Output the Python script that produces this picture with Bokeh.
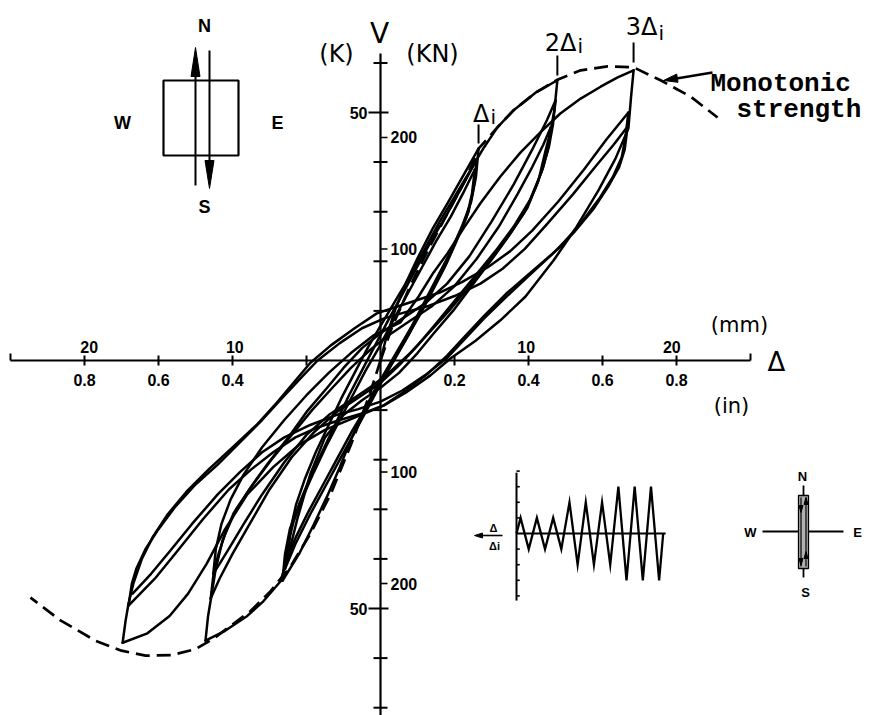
from bokeh.plotting import figure
from bokeh.models import Range1d
from bokeh.embed import file_html
from bokeh.resources import INLINE
from bokeh.core.properties import value

# ------------------------------------------------------------------
# Measured response: lateral displacement (in) vs. shear V (kips)
# Each list is one half-cycle of the test, in loading order.
# ------------------------------------------------------------------
virgin_load = [(0.000, 0.0), (0.016, 4.8), (0.041, 10.5), (0.068, 15.5), (0.100, 20.6),
               (0.141, 26.6), (0.181, 31.7), (0.224, 37.3), (0.265, 42.7)]

# first displacement level (1 x delta_i)
rev_1a = [(0.265, 42.7), (0.258, 37.0), (0.245, 32.0), (0.220, 27.0), (0.190, 22.0), (0.155, 17.0),
          (0.120, 12.0), (0.085, 7.0), (0.050, 2.5), (0.015, -2.0), (-0.020, -6.5), (-0.050, -11.0),
          (-0.080, -16.0), (-0.110, -21.5), (-0.145, -27.5), (-0.180, -33.0), (-0.220, -39.0),
          (-0.265, -44.4)]
fwd_1b = [(-0.265, -44.4), (-0.258, -39.0), (-0.245, -34.0), (-0.220, -29.0), (-0.190, -23.5),
          (-0.155, -18.0), (-0.120, -12.5), (-0.085, -7.0), (-0.050, -2.0), (-0.015, 3.0), (0.020, 8.0),
          (0.060, 13.5), (0.100, 19.0), (0.140, 24.5), (0.180, 29.5), (0.220, 35.0), (0.260, 40.5)]
rev_1b = [(0.260, 40.5), (0.252, 35.0), (0.238, 30.0), (0.210, 25.0), (0.180, 20.0), (0.145, 15.0),
          (0.110, 10.0), (0.075, 5.0), (0.040, 0.5), (0.005, -4.0), (-0.030, -9.0), (-0.070, -14.5),
          (-0.110, -20.0), (-0.150, -25.5), (-0.190, -31.0), (-0.230, -37.0), (-0.258, -42.0)]
fwd_1c = [(-0.258, -42.0), (-0.250, -37.0), (-0.235, -32.5), (-0.210, -27.5), (-0.180, -22.5),
          (-0.145, -17.0), (-0.110, -12.0), (-0.075, -7.0), (-0.040, -2.0), (-0.005, 2.5), (0.030, 7.5),
          (0.070, 13.0), (0.110, 18.5), (0.150, 24.0), (0.190, 29.0), (0.225, 34.0), (0.255, 38.5)]
rev_1c = [(0.255, 38.5), (0.247, 33.5), (0.233, 29.0), (0.205, 24.0), (0.175, 19.0), (0.140, 14.0),
          (0.105, 9.0), (0.070, 4.5), (0.035, 0.0), (0.000, -4.5), (-0.035, -9.0), (-0.075, -14.0),
          (-0.115, -19.5), (-0.155, -25.0), (-0.195, -30.5), (-0.228, -35.5), (-0.250, -39.5)]

# second displacement level (2 x delta_i)
fwd_2a = [(-0.250, -39.5), (-0.243, -34.0), (-0.228, -29.0), (-0.205, -24.0), (-0.175, -18.5),
          (-0.140, -13.0), (-0.105, -7.5), (-0.070, -2.5), (-0.035, 2.5), (0.000, 7.0), (0.040, 12.0),
          (0.080, 17.0), (0.120, 22.5), (0.160, 28.0), (0.200, 33.0), (0.240, 38.0), (0.280, 43.0),
          (0.316, 47.0), (0.359, 50.4), (0.419, 54.0), (0.478, 56.5)]
rev_2a = [(0.478, 56.5), (0.470, 50.5), (0.459, 46.0), (0.446, 42.3), (0.427, 36.3), (0.397, 30.8),
          (0.351, 25.6), (0.305, 20.8), (0.251, 15.5), (0.197, 10.1), (0.143, 5.4), (0.100, 1.5),
          (0.050, -2.5), (0.000, -5.5), (-0.050, -8.0), (-0.100, -11.0), (-0.150, -15.5),
          (-0.190, -23.0), (-0.225, -32.0), (-0.250, -39.5), (-0.270, -44.5), (-0.316, -48.5),
          (-0.360, -51.5), (-0.420, -54.5), (-0.473, -56.5)]
fwd_2b = [(-0.473, -56.5), (-0.466, -51.5), (-0.459, -48.4), (-0.446, -42.3), (-0.427, -36.3),
          (-0.397, -30.8), (-0.351, -25.6), (-0.305, -20.8), (-0.251, -15.7), (-0.197, -10.1),
          (-0.143, -5.4), (-0.100, -1.5), (-0.050, 2.5), (0.000, 5.5), (0.060, 8.5), (0.120, 11.5),
          (0.180, 15.5), (0.240, 21.0), (0.300, 28.0), (0.360, 35.5), (0.410, 42.5), (0.450, 48.5),
          (0.473, 52.4)]
rev_2b = [(0.473, 52.4), (0.466, 47.5), (0.455, 43.0), (0.435, 38.0), (0.405, 32.5), (0.360, 27.0),
          (0.310, 22.0), (0.255, 17.0), (0.200, 12.0), (0.145, 7.0), (0.100, 3.0), (0.050, -1.0),
          (0.000, -4.5), (-0.060, -7.5), (-0.120, -10.5), (-0.180, -14.5), (-0.240, -19.5),
          (-0.300, -26.0), (-0.350, -32.5), (-0.400, -39.0), (-0.435, -44.0), (-0.459, -48.0)]
fwd_2c = [(-0.459, -48.0), (-0.452, -43.5), (-0.440, -39.5), (-0.420, -35.0), (-0.390, -30.0),
          (-0.345, -25.0), (-0.295, -20.0), (-0.240, -15.0), (-0.185, -10.0), (-0.130, -5.5),
          (-0.080, -1.5), (-0.030, 2.0), (0.020, 5.0), (0.080, 8.0), (0.140, 11.0), (0.200, 15.0),
          (0.260, 20.5), (0.320, 27.0), (0.370, 33.5), (0.410, 39.0), (0.440, 43.5), (0.460, 47.0)]
rev_2c = [(0.460, 47.0), (0.452, 42.5), (0.440, 39.0), (0.420, 35.0), (0.390, 30.0), (0.345, 25.0),
          (0.295, 20.0), (0.240, 15.0), (0.185, 10.0), (0.130, 5.5), (0.080, 1.5), (0.030, -2.0),
          (-0.020, -5.0), (-0.080, -8.0), (-0.140, -11.0), (-0.200, -15.0), (-0.260, -20.5),
          (-0.320, -27.0), (-0.370, -33.0), (-0.410, -38.0), (-0.435, -41.0), (-0.452, -43.0)]

# third displacement level (3 x delta_i)
fwd_3a = [(-0.452, -43.0), (-0.445, -38.0), (-0.430, -33.0), (-0.405, -28.0), (-0.370, -23.0),
          (-0.320, -17.5), (-0.260, -12.0), (-0.200, -7.0), (-0.140, -2.5), (-0.080, 1.5),
          (-0.020, 5.0), (0.054, 7.7), (0.103, 12.9), (0.143, 17.7), (0.181, 21.6), (0.224, 26.6),
          (0.270, 31.7), (0.324, 37.1), (0.378, 41.9), (0.432, 46.0), (0.486, 49.8), (0.541, 52.8),
          (0.595, 55.2), (0.641, 57.1), (0.684, 58.5)]
rev_3a = [(0.684, 58.5), (0.677, 53.0), (0.670, 46.8), (0.635, 40.7), (0.589, 34.3), (0.527, 26.6),
          (0.468, 20.2), (0.392, 12.9), (0.324, 8.1), (0.257, 4.0), (0.189, 0.4), (0.135, -3.0),
          (0.068, -6.5), (0.008, -9.1), (-0.070, -11.5), (-0.150, -14.0), (-0.220, -17.0),
          (-0.290, -21.5), (-0.360, -27.0), (-0.420, -34.0), (-0.470, -41.0), (-0.520, -47.0),
          (-0.570, -51.5), (-0.630, -55.0), (-0.697, -56.9)]
fwd_3b = [(-0.697, -56.9), (-0.689, -52.5), (-0.681, -49.0), (-0.668, -45.0), (-0.645, -40.0),
          (-0.615, -35.5), (-0.575, -31.0), (-0.525, -26.5), (-0.465, -22.0), (-0.400, -17.5),
          (-0.335, -13.0), (-0.280, -8.5), (-0.235, -4.5), (-0.190, -0.5), (-0.135, 3.0),
          (-0.070, 6.5), (-0.010, 9.5), (0.050, 11.0), (0.100, 12.2), (0.160, 13.7), (0.220, 15.8),
          (0.290, 18.8), (0.350, 22.0), (0.410, 26.2), (0.480, 32.0), (0.550, 38.5), (0.610, 44.5),
          (0.670, 50.0)]
rev_3b = [(0.670, 50.0), (0.662, 45.0), (0.652, 41.0), (0.628, 37.0), (0.590, 32.5), (0.540, 27.5),
          (0.480, 22.5), (0.410, 18.0), (0.340, 13.5), (0.280, 9.0), (0.230, 5.0), (0.180, 1.0),
          (0.130, -2.5), (0.070, -6.0), (0.010, -9.0), (-0.050, -10.7), (-0.110, -12.0),
          (-0.170, -13.5), (-0.230, -15.5), (-0.290, -18.5), (-0.350, -22.0), (-0.410, -26.0),
          (-0.480, -32.0), (-0.550, -38.5), (-0.610, -44.0), (-0.681, -49.4)]
fwd_3c = [(-0.681, -49.4), (-0.672, -45.0), (-0.660, -42.0), (-0.635, -38.0), (-0.600, -34.0),
          (-0.555, -29.5), (-0.500, -25.0), (-0.440, -21.0), (-0.380, -16.5), (-0.320, -12.0),
          (-0.265, -7.5), (-0.215, -3.5), (-0.170, 0.0), (-0.110, 3.5), (-0.050, 6.5), (0.010, 8.5),
          (0.070, 9.8), (0.130, 11.0), (0.200, 13.0), (0.270, 15.5), (0.330, 18.5), (0.390, 22.5),
          (0.450, 27.5), (0.520, 33.5), (0.580, 39.0), (0.630, 43.5), (0.668, 47.2)]
rev_3c = [(0.668, 47.2), (0.660, 42.5), (0.645, 39.0), (0.615, 35.0), (0.575, 30.5), (0.525, 26.0),
          (0.465, 21.5), (0.400, 17.0), (0.335, 12.5), (0.280, 8.5), (0.230, 4.5), (0.180, 0.5),
          (0.120, -3.0), (0.060, -6.0), (0.000, -8.3), (-0.060, -9.8), (-0.120, -11.0),
          (-0.190, -13.0), (-0.260, -15.5), (-0.320, -18.5), (-0.380, -22.5), (-0.440, -27.0),
          (-0.510, -33.0), (-0.570, -38.5), (-0.620, -43.0), (-0.670, -47.0)]

half_cycles = [virgin_load, rev_1a, fwd_1b, rev_1b, fwd_1c, rev_1c,
               fwd_2a, rev_2a, fwd_2b, rev_2b, fwd_2c, rev_2c,
               fwd_3a, rev_3a, fwd_3b, rev_3b, fwd_3c, rev_3c]

# monotonic strength envelope (dashed)
monotonic_pos = [(0.000, 0.0), (0.030, 6.5), (0.080, 15.0), (0.130, 22.5), (0.180, 29.5),
                 (0.230, 36.5), (0.265, 42.7), (0.316, 47.0), (0.359, 50.4), (0.419, 54.0),
                 (0.478, 56.6), (0.541, 58.5), (0.614, 59.3), (0.684, 59.1), (0.757, 56.5),
                 (0.838, 53.2), (0.911, 49.0)]
monotonic_neg = [(0.000, 0.0), (-0.030, -7.0), (-0.080, -17.0), (-0.135, -27.0), (-0.190, -35.0),
                 (-0.243, -41.5), (-0.297, -46.5), (-0.351, -50.5), (-0.405, -53.5), (-0.450, -56.0),
                 (-0.500, -58.2), (-0.565, -59.4), (-0.635, -59.5), (-0.700, -58.5), (-0.770, -56.5),
                 (-0.865, -52.4), (-0.946, -47.8)]

# peak displacements of the three levels
peak_disp = [0.265, 0.478, 0.684]
peak_prefix = ["Δ", "2Δ", "3Δ"]

# axis ticks
disp_ticks_in = [-0.8, -0.6, -0.4, -0.2, 0.2, 0.4, 0.6, 0.8]
disp_labels_in_pos = [-0.8, -0.6, -0.4, 0.2, 0.4, 0.6, 0.8]
disp_labels_in = ["0.8", "0.6", "0.4", "0.2", "0.4", "0.6", "0.8"]
disp_labels_mm_pos = [-20, -10, 10, 20]
disp_labels_mm = ["20", "10", "10", "20"]
shear_ticks_kip = [-70, -60, -50, -40, -30, -20, -10, 10, 20, 30, 40, 50, 60]
shear_labels_kip_pos = [50, -50]
shear_labels_kip = ["50", "50"]
shear_ticks_kn = [200, 100, -100, -200]
shear_labels_kn = ["200", "100", "100", "200"]

# imposed displacement history (ratio delta / delta_i per half-cycle)
hist_step = [0, 0.5, 1.5, 2.5, 3.5, 4.5, 5.5, 6.5, 7.5, 8.5, 9.5, 10.5, 11.5, 12.5, 13.5,
             14.5, 15.5, 16.5, 17.5, 18.0]
hist_ratio = [0, 1, -1, 1, -1, 1, -1, 2, -2, 2, -2, 2, -2, 3, -3, 3, -3, 3, -3, 0]
hist_ticks = [-4, -3, -2, -1, 1, 2, 3, 4]

# ------------------------------------------------------------------
# figure geometry
# ------------------------------------------------------------------
W, H = 872, 715
PX_IN, PX_KIP = 370.0, 4.96          # screen pixels per inch / per kip
OX, OY = 380.0, 360.0                # screen position of the origin
x_lo, x_hi = -OX / PX_IN, (W - OX) / PX_IN
y_lo, y_hi = -(H - OY) / PX_KIP, OY / PX_KIP

HX, HY = 516.0, 533.0                # inset origin on screen
H_STEP, H_UNIT = 8.15, 15.6          # inset pixels per half-cycle / per unit ratio

p = figure(width=W, height=H, x_range=Range1d(x_lo, x_hi), y_range=Range1d(y_lo, y_hi),
           output_backend="svg", toolbar_location=None, min_border=0,
           x_axis_location=None, y_axis_location=None, outline_line_color=None,
           background_fill_color="white", border_fill_color="white")
p.grid.visible = False
p.extra_x_ranges = {
    "mm": Range1d(x_lo * 25.4, x_hi * 25.4),
    "px": Range1d(0, W),
    "step": Range1d(-HX / H_STEP, (W - HX) / H_STEP),
}
p.extra_y_ranges = {
    "kN": Range1d(y_lo * 4.448, y_hi * 4.448),
    "px": Range1d(H, 0),
    "ratio": Range1d(-(H - HY) / H_UNIT, HY / H_UNIT),
}

INK = "black"
SANS = value("Liberation Sans")
ROUND = value("DejaVu Sans")

# ---------------- hysteresis loops ----------------
p.multi_line([[pt[0] for pt in hc] for hc in half_cycles],
             [[pt[1] for pt in hc] for hc in half_cycles],
             line_color=INK, line_width=2.5, line_join="round", line_cap="round")

for env in (monotonic_pos, monotonic_neg):
    p.line([pt[0] for pt in env], [pt[1] for pt in env], line_color=INK,
           line_width=2.7, line_dash="14 7")

# ---------------- axes ----------------
tick_k = 5 / PX_KIP
p.segment(x0=[-1.0], y0=[0], x1=[1.0], y1=[0], line_color=INK, line_width=2.2)
p.segment(x0=[-1.0, 1.0], y0=[0, 0], x1=[-1.0, 1.0], y1=[7 / PX_KIP] * 2, line_color=INK, line_width=2)
p.segment(x0=disp_ticks_in, y0=[-tick_k] * 8, x1=disp_ticks_in, y1=[tick_k] * 8,
          line_color=INK, line_width=2)
p.text(x=disp_labels_in_pos, y=[379] * 7, y_range_name="px", text=disp_labels_in,
       text_align="center", text_baseline="middle", text_font=SANS, text_font_style="bold",
       text_font_size="16px", text_color=INK)
p.text(x=disp_labels_mm_pos, y=[346] * 4, x_range_name="mm", y_range_name="px", text=disp_labels_mm,
       text_align="center", text_baseline="middle", text_font=SANS, text_font_style="bold",
       text_font_size="16px", text_color=INK)

p.segment(x0=[0], y0=[y_lo], x1=[0], y1=[(OY - 53) / PX_KIP], line_color=INK, line_width=2.2)
short = [t for t in shear_ticks_kip if abs(t) != 50]
p.segment(x0=[-7 / PX_IN] * len(short), y0=short, x1=[7 / PX_IN] * len(short), y1=short,
          line_color=INK, line_width=2)
p.segment(x0=[-12 / PX_IN] * 2, y0=[50, -50], x1=[8 / PX_IN] * 2, y1=[50, -50],
          line_color=INK, line_width=2)
p.segment(x0=[0] * 4, y0=shear_ticks_kn, x1=[7 / PX_IN] * 4, y1=shear_ticks_kn,
          y_range_name="kN", line_color=INK, line_width=1.6)
p.text(x=[367, 367], y=shear_labels_kip_pos, x_range_name="px", text=shear_labels_kip,
       text_align="right", text_baseline="middle", text_font=SANS, text_font_style="bold",
       text_font_size="16px", text_color=INK)
p.text(x=[390] * 4, y=shear_ticks_kn, x_range_name="px", y_range_name="kN", text=shear_labels_kn,
       text_align="left", text_baseline="middle", text_font=SANS, text_font_style="bold",
       text_font_size="16px", text_color=INK)

# axis titles
p.text(x=[336, 432], y=[53, 53], x_range_name="px", y_range_name="px",
       text=["(K)", "(KN)"], text_align="center", text_baseline="middle",
       text_font=ROUND, text_font_size="24px", text_color=INK)
p.text(x=[379], y=[33], x_range_name="px", y_range_name="px",
       text=["V"], text_align="center", text_baseline="middle",
       text_font=ROUND, text_font_size="28px", text_color=INK)
p.text(x=[739, 731], y=[324, 405], x_range_name="px", y_range_name="px",
       text=["(mm)", "(in)"], text_align="center", text_baseline="middle",
       text_font=ROUND, text_font_size="21px", text_color=INK)
p.text(x=[776], y=[361], x_range_name="px", y_range_name="px", text=["Δ"],
       text_align="center", text_baseline="middle", text_font=ROUND,
       text_font_size="26px", text_color=INK)

# ---------------- peak markers ----------------
p.segment(x0=peak_disp, y0=[143, 75, 62], x1=peak_disp, y1=[124, 55, 42],
          y_range_name="px", line_color=INK, line_width=2)
p.text(x=[489, 576, 657], y=[113, 42, 26], x_range_name="px", y_range_name="px",
       text=peak_prefix, text_align="right", text_baseline="alphabetic",
       text_font=ROUND, text_font_size="24px", text_color=INK)
p.text(x=[490, 577, 658], y=[116, 45, 32], x_range_name="px", y_range_name="px",
       text=["i", "i", "i"], text_align="left", text_baseline="alphabetic",
       text_font=ROUND, text_font_size="20px", text_color=INK)

# monotonic strength call-out
p.segment(x0=[712], y0=[72], x1=[676], y1=[78], x_range_name="px", y_range_name="px",
          line_color=INK, line_width=2.4)
p.patch([663, 677.5, 676.2], [80, 81.8, 73.6], x_range_name="px", y_range_name="px",
        fill_color=INK, line_color=INK, line_width=1)
p.text(x=[710, 736], y=[83, 109], x_range_name="px", y_range_name="px",
       text=["Monotonic", "strength"], text_align="left", text_baseline="alphabetic",
       text_font=value("Liberation Mono"), text_font_style="bold", text_font_size="26px",
       text_color=INK)

# ---------------- specimen orientation sketch (top left) ----------------
p.quad(left=[163], right=[238], top=[80], bottom=[155], x_range_name="px", y_range_name="px",
       fill_color=None, line_color=INK, line_width=2.2)
p.segment(x0=[195, 209], y0=[185, 50], x1=[195, 209], y1=[70, 165], x_range_name="px",
          y_range_name="px", line_color=INK, line_width=2)
p.patches([[195, 190.5, 199.5], [209, 204.5, 213.5]], [[47, 76, 76], [188, 160, 160]],
          x_range_name="px", y_range_name="px", fill_color=INK, line_color=INK)
p.text(x=[204, 204, 122, 277], y=[25, 206, 122, 122], x_range_name="px", y_range_name="px",
       text=["N", "S", "W", "E"], text_align="center", text_baseline="middle", text_font=SANS,
       text_font_style="bold", text_font_size="18px", text_color=INK)

# ---------------- displacement history inset ----------------
p.line(hist_step, hist_ratio, x_range_name="step", y_range_name="ratio",
       line_color=INK, line_width=2.3, line_join="miter")
p.segment(x0=[0], y0=[0], x1=[18.3], y1=[0], x_range_name="step", y_range_name="ratio",
          line_color=INK, line_width=2)
p.segment(x0=[0], y0=[-4.3], x1=[0], y1=[3.9], x_range_name="step", y_range_name="ratio",
          line_color=INK, line_width=2)
p.segment(x0=[0] * 8, y0=hist_ticks, x1=[0.4] * 8, y1=hist_ticks, x_range_name="step",
          y_range_name="ratio", line_color=INK, line_width=1.6)
p.segment(x0=[479], y0=[535], x1=[502], y1=[535], x_range_name="px", y_range_name="px",
          line_color=INK, line_width=1.6)
p.patch([474, 482, 482], [535, 532.5, 537.5], x_range_name="px", y_range_name="px",
        fill_color=INK, line_color=INK)
p.text(x=[493, 494], y=[527, 545], x_range_name="px", y_range_name="px",
       text=["Δ", "Δi"], text_align="center", text_baseline="middle", text_font=SANS,
       text_font_style="bold", text_font_size="11px", text_color=INK)

# ---------------- load direction sketch (bottom right) ----------------
p.segment(x0=[762, 803], y0=[531, 485], x1=[843, 803], y1=[531, 577], x_range_name="px",
          y_range_name="px", line_color=INK, line_width=1.8)
p.quad(left=[798], right=[808], top=[495], bottom=[568], x_range_name="px", y_range_name="px",
       fill_color="#b0b0b0", line_color=INK, line_width=1.3)
p.segment(x0=[800.5, 805.5], y0=[497, 497], x1=[800.5, 805.5], y1=[566, 566], x_range_name="px",
          y_range_name="px", line_color=INK, line_width=1.2)
p.patches([[800.5, 798.5, 802.5], [800.5, 798.5, 802.5], [805.5, 803.5, 807.5], [805.5, 803.5, 807.5]],
          [[512, 505, 505], [565, 558, 558], [497, 504, 504], [551, 558, 558]],
          x_range_name="px", y_range_name="px", fill_color=INK, line_color=INK)
p.text(x=[802, 805, 750, 857], y=[476, 592, 532, 532], x_range_name="px", y_range_name="px",
       text=["N", "S", "W", "E"], text_align="center", text_baseline="middle", text_font=SANS,
       text_font_style="bold", text_font_size="13px", text_color=INK)

open("out.html", "w").write(file_html(p, INLINE))
